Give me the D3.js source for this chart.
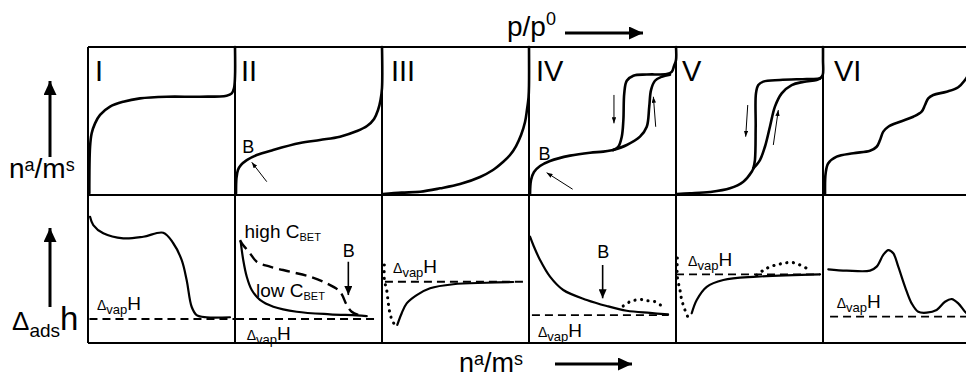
<!DOCTYPE html>
<html>
<head>
<meta charset="utf-8">
<script src="https://cdn.jsdelivr.net/npm/d3@7"></script>
<style>
  html, body { margin: 0; padding: 0; background: #fff; }
  svg { display: block; font-family: "Liberation Sans", Arial, sans-serif; }
  .frame { stroke: #000; stroke-width: 2; fill: none; }
  .curve { fill: none; stroke: #000; stroke-width: 2.6; stroke-linejoin: round; stroke-linecap: round; }
  .curve.low { stroke-width: 2.2; }
  .dashed { stroke-dasharray: 11 6; stroke-linecap: butt; stroke-width: 2.4; }
  .dotted { stroke-dasharray: 0.1 6.5; stroke-width: 3.1; }
  .vap { stroke: #000; stroke-width: 1.8; stroke-dasharray: 8 5; fill: none; }
  .thin-arrow { stroke: #000; stroke-width: 1; fill: none; }
  .mid-arrow { stroke: #000; stroke-width: 1.6; fill: none; }
  .axis-arrow { stroke: #000; stroke-width: 3; fill: none; }
  text { fill: #000; }
</style>
</head>
<body>
<div id="chart"></div>
<script>
// Isothermen-Typen I–VI (oben) und zugehörige Adsorptionsenthalpie (unten).
// Jede Tafel hat lokale Koordinaten 0..100 in x und y.

// --- Daten: Isothermen (oben) ---
const isoI = [[0.9,1.1],[1.4,32.6],[2.5,41.7],[4.8,48.4],[8.2,54.1],[15,59.7],[24,63],[35.4,65.3],
  [53.5,66.4],[76.2,66.4],[94.3,67.1],[97.8,68.7],[99.3,72.1],[100,79.9],[100,100]];
const isoII = [[0.7,1.1],[1,11.5],[2,16.9],[4.1,20.3],[8,23.6],[14.8,27],[25.9,30.4],[44.2,35.1],
  [57.8,37.2],[71.4,39.4],[83,43.2],[89.8,46.6],[94.6,51.4],[97.3,57.4],[99,64.2],[100,72.3],[100,100]];
const isoIII = [[0.7,0.7],[13.4,1.6],[25.9,2.2],[39.5,4.5],[53.1,7.4],[66.7,12.2],[75.5,16.9],[82.3,22.3],
  [87.1,27],[91.2,33.1],[94.6,40.5],[97.3,49.3],[98.6,57.4],[99.7,66.2],[100,74.3],[100,100]];
const isoIVbase = [[0.7,0.7],[1.4,10.1],[3.4,15.5],[7.5,19.6],[14.3,23],[27.9,26.6],[41.5,28.6],
  [50.5,29.3],[57.3,30.4]];
const isoIVdes = [[57.3,30.4],[60.7,32.6],[63.1,39.4],[64.2,50.7],[64.8,68.7],[66.5,77.2],[71,80.6],
  [80.1,81.4],[93.7,81.8],[97.1,83.2],[98.6,87],[100,91.2],[100,100]];
const isoIVads = [[57.3,30.4],[66.5,33.8],[75.5,39.4],[80.1,46.1],[81.8,59.7],[83,70.9],[85.7,77.2],
  [90.3,79.9],[95.9,81.3]];
const isoVbase = [[0.7,0.7],[9.5,1.1],[23.1,2],[36.7,4.5],[45.8,9],[51.5,15.7],[52.6,18]];
const isoVdes = [[52.6,18],[53.7,23.6],[54.2,46.1],[54.4,68.7],[56,74.3],[59.4,76.6],[70.7,77.7],
  [88.9,78.4],[98,78.9],[99.8,81.1],[100,91.2],[100,100]];
const isoVads = [[52.6,18],[57.1,23.6],[60.5,32.6],[63.9,46.1],[67.3,59.7],[71.9,68.7],[78.7,74.3],
  [86.6,76.4],[95.7,77.7],[98,78.6]];
const isoVI = [[1.4,1.1],[1.8,14.7],[3.6,21.4],[9.3,25.9],[20.6,28.2],[32,29.9],[36.5,32.6],[38.8,37.2],
  [41,42.8],[44.4,46.1],[52.4,49.5],[61.4,52.9],[67.1,56.3],[69.4,60.8],[71.6,65.3],[75,67.6],
  [84.1,69.8],[92,72.8],[96.6,77.7],[100,83.1]];

// --- Daten: Enthalpie (unten) ---
const enthI = [[1.4,85.3],[3.6,79.7],[10.4,74.1],[24,70.7],[37.6,71.8],[51.2,74.5],[58,67.4],[63.7,56.1],
  [67.1,42.6],[70.5,24.5],[73.9,18.9],[80.7,17.4],[96.6,17.4]];
const enthIIhigh = [[3.4,69.5],[4.6,67.4],[10.2,60.6],[14.8,54.9],[23.8,51.6],[37.4,48.2],[51,44.8],
  [62.4,40.3],[71.4,34.7],[76,25.7],[79.4,21.1],[83.9,18.9]];
const enthIIlow = [[3.9,68.4],[5.6,56.1],[8,44.8],[11.4,35.8],[17,29.1],[26.1,24.5],[42,21.1],
  [64.6,19.4],[82.8,18.7],[89.6,18.2]];
const enthIIIdot = [[1.6,52.7],[1.6,42.6],[3.2,35.8],[4.3,26.8],[5.4,20.1],[7.3,14.4],[9.5,11.5]];
const enthIIIsolid = [[10.4,12.2],[13.4,20.1],[16.8,26.8],[23.6,32.4],[32.7,37],[48.5,39.7],
  [71.2,40.7],[89.3,41.2]];
const enthIV = [[0.7,71.8],[2.9,66.2],[7.5,56.1],[14.3,44.8],[23.3,35.8],[39.3,29.1],[52.9,25],
  [66.5,21.8],[82.3,20.3],[94.6,19.3]];
const enthIVdot = [[64.1,25],[68.7,27.9],[75.5,29.4],[80.1,28.6],[85.7,27.9],[90.3,25]];
const enthVdot = [[0.9,57.4],[0.9,44.8],[2.7,35.8],[3.9,29.1],[6.1,22.3],[8.4,16.7]];
const enthVsolid = [[10.7,20.1],[14.1,29.1],[20.9,38],[32.2,42.6],[54.9,44.8],[98,46.4]];
const enthVhump = [[54.9,45.9],[61.7,50.5],[70.7,53.4],[79.8,54.3],[88.9,50.5]];
const enthVI = [[3.6,49.8],[16.1,48.9],[32,48.9],[36.5,51.6],[41,59.5],[44.4,62.8],[47.8,60.6],
  [51.2,51.6],[55.8,38],[60.3,26.8],[64.8,21.1],[70.5,20.5],[77.3,22.3],[83,27.9],[87.6,29.7],
  [92,26.8],[96.6,21.1],[100,18.2]];

// Verdampfungsenthalpie-Niveau je Tafel und Ausdehnung
const vapLevel = [16.2, 16.2, 41.4, 18.9, 46.4, 17.8];
const vapStart = [1, 0.7, 2, 2, 0, 4.8];
const vapEnd = [100, 97.3, 97.3, 95, 98, 100];

const romanLabels = ["I", "II", "III", "IV", "V", "VI"];

// --- Layout ---
const W = 966, H = 377;
const panelX = d3.scaleLinear().domain([0, 6]).range([88, 970]);
const rowY = d3.scaleLinear().domain([0, 2]).range([47, 343]);
const sx = p => d3.scaleLinear().domain([0, 100]).range([panelX(p), panelX(p + 1)]);
const sy = r => d3.scaleLinear().domain([0, 100]).range([rowY(r + 1), rowY(r)]);

const svg = d3.select("#chart").append("svg")
  .attr("width", W).attr("height", H).attr("viewBox", `0 0 ${W} ${H}`);

const defs = svg.append("defs");
function marker(id, len, half) {
  defs.append("marker")
    .attr("id", id)
    .attr("markerUnits", "userSpaceOnUse")
    .attr("viewBox", `${-len} ${-half} ${len} ${half * 2}`)
    .attr("refX", 0).attr("refY", 0)
    .attr("markerWidth", len).attr("markerHeight", half * 2)
    .attr("orient", "auto")
    .append("path")
    .attr("d", `M0,0L${-len},${-half}L${-len},${half}Z`)
    .attr("fill", "#000");
}
marker("head-s", 6, 2.2);
marker("head-m", 9, 4);
marker("head-l", 14, 6.5);

// Rahmen
const frame = svg.append("g");
[0, 1, 2].forEach(r => {
  frame.append("line").attr("class", "frame")
    .attr("x1", panelX(0)).attr("x2", panelX(6))
    .attr("y1", rowY(r)).attr("y2", rowY(r));
});
d3.range(0, 6).forEach(p => {
  frame.append("line").attr("class", "frame")
    .attr("x1", panelX(p)).attr("x2", panelX(p))
    .attr("y1", rowY(0)).attr("y2", rowY(2))
    .attr("stroke-width", p === 0 ? 1.5 : 2);
});

// Kurven
const curves = [
  { p: 0, r: 0, d: isoI }, { p: 1, r: 0, d: isoII }, { p: 2, r: 0, d: isoIII },
  { p: 3, r: 0, d: isoIVbase }, { p: 3, r: 0, d: isoIVdes }, { p: 3, r: 0, d: isoIVads },
  { p: 4, r: 0, d: isoVbase }, { p: 4, r: 0, d: isoVdes }, { p: 4, r: 0, d: isoVads },
  { p: 5, r: 0, d: isoVI },
  { p: 0, r: 1, d: enthI, cls: "low" },
  { p: 1, r: 1, d: enthIIhigh, cls: "dashed" },
  { p: 1, r: 1, d: enthIIlow, cls: "low" },
  { p: 2, r: 1, d: enthIIIdot, cls: "dotted" },
  { p: 2, r: 1, d: enthIIIsolid, cls: "low" },
  { p: 3, r: 1, d: enthIV, cls: "low" },
  { p: 3, r: 1, d: enthIVdot, cls: "dotted" },
  { p: 4, r: 1, d: enthVdot, cls: "dotted" },
  { p: 4, r: 1, d: enthVsolid, cls: "low" },
  { p: 4, r: 1, d: enthVhump, cls: "dotted" },
  { p: 5, r: 1, d: enthVI, cls: "low" },
];

const plot = svg.append("g");
curves.forEach(c => {
  const x = sx(c.p), y = sy(c.r);
  const line = d3.line().x(d => x(d[0])).y(d => y(d[1])).curve(d3.curveCatmullRom.alpha(0.5));
  plot.append("path")
    .attr("class", "curve " + (c.cls || ""))
    .attr("d", line(c.d));
});

// Verdampfungsenthalpie (gestrichelt)
vapLevel.forEach((v, p) => {
  const x = sx(p), y = sy(1);
  plot.append("line").attr("class", "vap")
    .attr("x1", x(vapStart[p])).attr("x2", x(vapEnd[p]))
    .attr("y1", y(v)).attr("y2", y(v));
});

// Text-Helfer: Teile = [Text, Schriftgröße, dy]
function label(x, y, parts) {
  const t = svg.append("text").attr("x", x).attr("y", y);
  parts.forEach(([s, size, dy]) => {
    t.append("tspan").attr("font-size", size).attr("dy", dy || 0).text(s);
  });
  return t;
}
function panelLabel(p, r, lx, ly, parts) {
  return label(sx(p)(lx), sy(r)(ly), parts);
}

// Römische Ziffern
const romanX = [4.8, 4.1, 6.1, 4.8, 4.1, 7.5];
romanLabels.forEach((s, p) => panelLabel(p, 0, romanX[p], 77, [[s, 29, 0]]));

// ΔvapH
const vapPos = [[6.1, 22.3], [8, 2.0], [7.5, 47.5], [6.1, 4.3], [8.2, 52.0], [9.3, 23.4]];
vapPos.forEach(([lx, ly], p) => {
  panelLabel(p, 1, lx, ly, [["\u0394", 14, 0], ["vap", 13, 4], ["H", 19, -4]]);
});

// B-Markierungen
panelLabel(1, 0, 5.0, 28.4, [["B", 18, 0]]);
panelLabel(3, 0, 6.4, 23.6, [["B", 18, 0]]);
panelLabel(1, 1, 73.3, 58.3, [["B", 18, 0]]);
panelLabel(3, 1, 46.5, 57.4, [["B", 18, 0]]);
panelLabel(1, 1, 6.5, 70.7, [["high C", 19, 0], ["BET", 11, 3]]);
panelLabel(1, 1, 14.3, 31.3, [["low C", 19, 0], ["BET", 11, 3]]);

// Pfeile in den Tafeln
const arrows = [
  { p: 1, r: 0, from: [21.6, 9.0], to: [11.4, 22.1], cls: "thin-arrow", head: "head-s" },
  { p: 3, r: 0, from: [29.7, 3.9], to: [12.0, 15.1], cls: "thin-arrow", head: "head-s" },
  { p: 3, r: 0, from: [57.8, 67.6], to: [57.8, 48.4], cls: "thin-arrow", head: "head-s" },
  { p: 3, r: 0, from: [86.2, 46.1], to: [84.6, 66.4], cls: "thin-arrow", head: "head-s" },
  { p: 4, r: 0, from: [48.8, 60.8], to: [47.4, 39.4], cls: "thin-arrow", head: "head-s" },
  { p: 4, r: 0, from: [66.2, 33.8], to: [69.6, 57.4], cls: "thin-arrow", head: "head-s" },
  { p: 1, r: 1, from: [77.1, 54.9], to: [77.1, 32.4], cls: "mid-arrow", head: "head-m" },
  { p: 3, r: 1, from: [50.1, 52.7], to: [50.1, 30.2], cls: "mid-arrow", head: "head-m" },
];
arrows.forEach(a => {
  const x = sx(a.p), y = sy(a.r);
  svg.append("line").attr("class", a.cls)
    .attr("x1", x(a.from[0])).attr("y1", y(a.from[1]))
    .attr("x2", x(a.to[0])).attr("y2", y(a.to[1]))
    .attr("marker-end", `url(#${a.head})`);
});

// Achsenbeschriftungen mit Pfeilen
function axisArrow(x1, y1, x2, y2) {
  svg.append("line").attr("class", "axis-arrow")
    .attr("x1", x1).attr("y1", y1).attr("x2", x2).attr("y2", y2)
    .attr("marker-end", "url(#head-l)");
}
axisArrow(565, 33, 643, 33);
axisArrow(555, 364, 632, 364);
axisArrow(50, 157, 50, 81);
axisArrow(50, 307, 50, 228);

label(507, 36, [["p/p", 28, 0], ["0", 18, -11]]);
label(459, 372, [["n", 27, 0], ["a", 18, -7], ["/m", 27, 7], ["s", 18, -7]]);
label(9, 178, [["n", 28, 0], ["a", 18, -7], ["/m", 28, 7], ["s", 18, -7]]);
label(12, 330, [["\u0394", 26, 0], ["ads", 19, 7], ["h", 33, -7]]);
</script>
</body>
</html>
